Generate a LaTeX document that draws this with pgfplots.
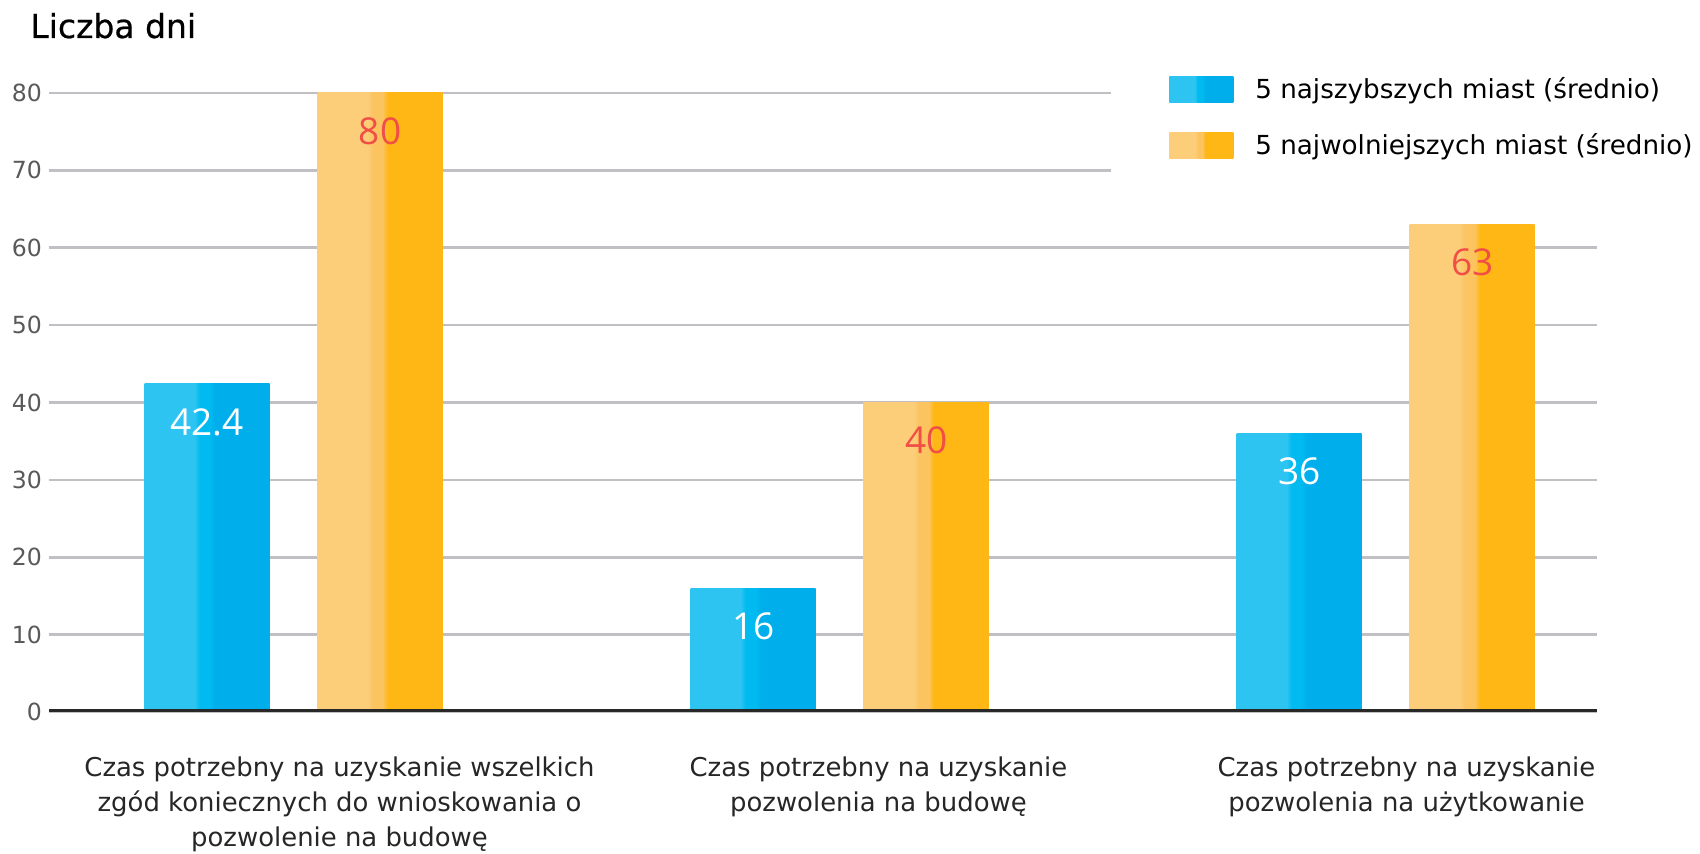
\documentclass[border=0pt]{standalone}
\usepackage{pgfplots}
\pgfplotsset{compat=1.18}
\usepackage{fontspec}
\setmainfont{DejaVu Sans}
\newfontfamily\valfont{Open Sans}
\newfontfamily\titlefont[FakeBold=0.6]{DejaVu Sans}
\definecolor{bluelight}{RGB}{45,196,242}
\definecolor{bluemid}{RGB}{0,186,240}
\definecolor{bluedark}{RGB}{0,174,236}
\definecolor{orlight}{RGB}{252,206,122}
\definecolor{ormid}{RGB}{252,196,96}
\definecolor{ordark}{RGB}{254,183,21}
\definecolor{valred}{RGB}{240,78,70}
\definecolor{gridgray}{RGB}{192,192,196}
\definecolor{axisdark}{RGB}{40,40,40}
\pgfdeclarehorizontalshading{blueshade}{100bp}{color(0bp)=(bluelight); color(45bp)=(bluelight); color(47bp)=(bluemid); color(51bp)=(bluemid); color(53bp)=(bluedark); color(100bp)=(bluedark)}
\pgfdeclarehorizontalshading{orshade}{100bp}{color(0bp)=(orlight); color(45bp)=(orlight); color(47bp)=(ormid); color(51bp)=(ormid); color(53bp)=(ordark); color(100bp)=(ordark)}
\pgfplotsset{
  bluebar/.style={draw=none, shade, shading=blueshade, bar shift=-43.25pt, nodes near coords,
    every node near coord/.append style={anchor=center, yshift=-19pt, text=white, font=\valfont\fontsize{18.5}{20}\selectfont}},
  orbar/.style={draw=none, shade, shading=orshade, bar shift=43.25pt, nodes near coords,
    every node near coord/.append style={anchor=center, yshift=-19pt, text=valred, font=\valfont\fontsize{18.5}{20}\selectfont}},
}
\begin{document}
\begin{tikzpicture}
\path[use as bounding box] (0,0) rectangle (850pt,427pt);
\node[anchor=base west, font=\titlefont\fontsize{16.5}{19}\selectfont, inner sep=0pt] at (15pt,408pt) {Liczba dni};
\begin{axis}[
  at={(24.5pt,71pt)}, anchor=south west,
  scale only axis, width=774pt, height=309.5pt,
  xmin=-0.448, xmax=2.387, ymin=0, ymax=80,
  axis line style={draw=none},
  major tick length=0pt, tick style={draw=none},
  ytick={0,10,...,80},
  ymajorgrids, grid style={gridgray, line width=1.3pt},
  xtick={0.084,1.071,2.038},
  xticklabels={{Czas potrzebny na uzyskanie wszelkich\\zgód koniecznych do wnioskowania o\\pozwolenie na budowę},{Czas potrzebny na uzyskanie\\pozwolenia na budowę},{Czas potrzebny na uzyskanie\\pozwolenia na użytkowanie}},
  xticklabel style={align=center, font=\fontsize{12.95}{17.4}\selectfont, text=black!85, anchor=north, yshift=-19pt},
  yticklabel style={font=\fontsize{11.8}{14}\selectfont, text=black!65},
  /pgf/number format/assume math mode=true,
  ybar, bar width=62.5pt,
  legend style={at={(axis description cs:0.686,0.9604)}, anchor=west, fill=white, draw=none,
    inner xsep=29pt, inner ysep=10pt, font=\fontsize{13.1}{15}\selectfont,
    row sep=12pt, /tikz/every odd column/.style={column sep=9pt}},
  legend cell align=left,
  legend image code/.code={\path[#1, draw=none] (0pt,-6.5pt) rectangle (32pt,6.5pt);},
]
\addplot[bluebar] coordinates {(0,42.4)};
\addplot[orbar] coordinates {(0,80)};
\addplot[bluebar, forget plot] coordinates {(1,16)};
\addplot[orbar, forget plot] coordinates {(1,40)};
\addplot[bluebar, forget plot] coordinates {(2,36)};
\addplot[orbar, forget plot] coordinates {(2,63)};
\legend{5 najszybszych miast (średnio), 5 najwolniejszych miast (średnio)}
\draw[axisdark, line width=2.5pt] (rel axis cs:0,0) -- (rel axis cs:1,0);
\end{axis}
\end{tikzpicture}
\end{document}
